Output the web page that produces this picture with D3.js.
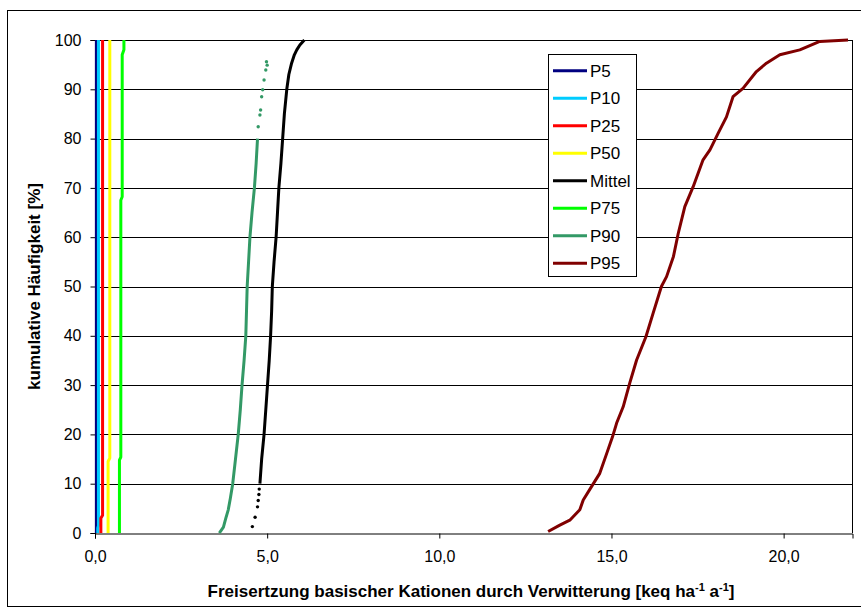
<!DOCTYPE html>
<html>
<head>
<meta charset="utf-8">
<script src="https://cdn.jsdelivr.net/npm/d3@7"></script>
<style>
  html, body { margin: 0; padding: 0; background: #fff; }
  svg { display: block; font-family: "Liberation Sans", Arial, sans-serif; }
</style>
</head>
<body>
<svg id="chart" width="861" height="613"></svg>
<script>
// Cumulative frequency (%) of base cation weathering rates per percentile.
// Each point: [weathering rate in keq/ha/a, cumulative frequency in %]
const seriesNames = ["P5", "P10", "P25", "P50", "Mittel", "P75", "P90", "P95"];
const seriesColors = ["#000080", "#00CCFF", "#FF0000", "#FFFF00", "#000000", "#00FF00", "#339966", "#800000"];

const p5 = [[0.04, 0], [0.04, 100]];
const p10 = [[0.08, 0], [0.08, 1], [0.1, 1.5], [0.1, 100]];
const p25 = [[0.17, 0], [0.17, 3], [0.22, 3.6], [0.22, 100]];
const p50 = [[0.38, 0], [0.38, 14.5], [0.43, 15.2], [0.43, 100]];
const mittel = [[4.79, 10], [4.84, 15], [4.91, 20], [4.96, 25], [5.01, 30], [5.06, 35], [5.1, 40],
  [5.13, 45], [5.15, 50], [5.2, 55], [5.26, 60], [5.3, 65], [5.34, 70], [5.4, 75], [5.45, 80],
  [5.5, 85], [5.57, 90], [5.63, 93], [5.71, 95.3], [5.79, 97], [5.86, 98], [5.95, 99], [6.08, 100]];
const mittelSparse = [[4.57, 1.3], [4.65, 3.2], [4.72, 5.3], [4.74, 6.6], [4.76, 7.8], [4.77, 8.9]];
const p75 = [[0.71, 0], [0.71, 14.8], [0.75, 15.4], [0.75, 67.5], [0.79, 68.2], [0.79, 97], [0.84, 98], [0.84, 100]];
const p90 = [[3.61, 0], [3.66, 0.5], [3.73, 1.2], [3.8, 3], [3.87, 4.7], [3.93, 7], [4.0, 10], [4.08, 15],
  [4.16, 20], [4.22, 25], [4.27, 30], [4.33, 35], [4.38, 40], [4.4, 45], [4.42, 50], [4.46, 55],
  [4.5, 60], [4.56, 65], [4.63, 70], [4.68, 75], [4.72, 80]];
const p90Sparse = [[4.74, 82.4], [4.79, 84.8], [4.81, 85.8], [4.84, 88.5], [4.87, 89.9], [4.91, 91.9],
  [4.96, 93.9], [5.0, 94.9], [4.98, 95.6]];
const p95 = [[13.16, 0.3], [13.5, 1.6], [13.79, 2.6], [14.08, 4.7], [14.18, 6.7], [14.42, 9.4], [14.66, 12.1],
  [14.86, 16.1], [15.03, 19.5], [15.15, 22.3], [15.34, 25.6], [15.53, 30.4], [15.73, 35.1], [16.0, 39.8],
  [16.21, 44.6], [16.45, 50], [16.6, 52], [16.8, 56.1], [16.94, 60.8], [17.13, 66.2], [17.37, 70.2],
  [17.66, 75.7], [17.86, 77.7], [18.1, 81.1], [18.34, 84.4], [18.53, 88.5], [18.82, 90.2], [19.21, 93.6],
  [19.5, 95.3], [19.89, 97], [20.47, 98], [21.05, 99.7], [21.87, 100]];

const xTicks = [0, 5, 10, 15, 20];
const yTicks = [0, 10, 20, 30, 40, 50, 60, 70, 80, 90, 100];

const lineSeries = [p5, p10, p25, p50, mittel, p75, p90, p95];
const sparseSeries = [null, null, null, null, mittelSparse, null, p90Sparse, null];

const svg = d3.select("#chart");
const plot = { left: 95, right: 852.5, top: 40, bottom: 533 };

// outer chart frame
svg.append("rect").attr("x", 7.5).attr("y", 10.5).attr("width", 880).attr("height", 596)
  .attr("fill", "#fff").attr("stroke", "#000").attr("stroke-width", 1);

const x = d3.scaleLinear().domain([0, 22]).range([plot.left, plot.right]);
const y = d3.scaleLinear().domain([0, 100]).range([plot.bottom, plot.top]);

// horizontal gridlines
svg.append("g").selectAll("line").data(yTicks.filter(d => d > 0)).join("line")
  .attr("x1", plot.left).attr("x2", plot.right)
  .attr("y1", d => Math.round(y(d)) + 0.5).attr("y2", d => Math.round(y(d)) + 0.5)
  .attr("stroke", "#000").attr("stroke-width", 1);

// plot area right border
svg.append("line").attr("x1", plot.right).attr("x2", plot.right)
  .attr("y1", plot.top).attr("y2", plot.bottom).attr("stroke", "#000").attr("stroke-width", 1);

// axes
const yAxis = d3.axisLeft(y).tickValues(yTicks).tickSize(5).tickPadding(9).tickFormat(d3.format("d"));
const gy = svg.append("g").attr("transform", `translate(${plot.left + 0.5},0)`).call(yAxis);
const xAxis = d3.axisBottom(x).tickValues(xTicks).tickSize(5).tickPadding(12)
  .tickFormat(d => d3.format(".1f")(d).replace(".", ","));
const gx = svg.append("g").attr("transform", `translate(0,${Math.round(plot.bottom) + 0.5})`).call(xAxis);
[gx, gy].forEach(g => {
  g.select(".domain").attr("stroke", "#000");
  g.selectAll(".tick line").attr("stroke", "#000");
  g.selectAll("text").attr("font-family", "Liberation Sans, Arial, sans-serif")
    .attr("font-size", 16).attr("fill", "#000");
});

// data curves
const line = d3.line().x(d => x(d[0])).y(d => y(d[1]));
const curves = svg.append("g");
lineSeries.forEach((s, i) => {
  curves.append("path").datum(s).attr("d", line)
    .attr("fill", "none").attr("stroke", seriesColors[i]).attr("stroke-width", 3)
    .attr("stroke-linejoin", "round");
  if (sparseSeries[i]) {
    curves.append("g").selectAll("circle").data(sparseSeries[i]).join("circle")
      .attr("cx", d => x(d[0])).attr("cy", d => y(d[1])).attr("r", 1.7)
      .attr("fill", seriesColors[i]);
  }
});

// legend
const leg = svg.append("g");
leg.append("rect").attr("x", 548.5).attr("y", 54.5).attr("width", 88).attr("height", 222)
  .attr("fill", "#fff").attr("stroke", "#000").attr("stroke-width", 1);
seriesNames.forEach((name, i) => {
  const cy = 70.7 + i * 27.5;
  leg.append("line").attr("x1", 553).attr("x2", 587).attr("y1", cy).attr("y2", cy)
    .attr("stroke", seriesColors[i]).attr("stroke-width", 3);
  leg.append("text").attr("x", 590).attr("y", cy + 6).attr("font-size", 17).attr("fill", "#000").text(name);
});

// axis titles
svg.append("text").attr("transform", `translate(40,${(plot.top + plot.bottom) / 2}) rotate(-90)`)
  .attr("text-anchor", "middle").attr("font-size", 17).attr("font-weight", "bold")
  .text("kumulative Häufigkeit [%]");

const xt = svg.append("text").attr("x", 471).attr("y", 597)
  .attr("text-anchor", "middle").attr("font-size", 17).attr("font-weight", "bold");
xt.append("tspan").text("Freisertzung basischer Kationen durch Verwitterung [keq ha");
xt.append("tspan").attr("dy", -6).attr("font-size", 11).text("-1");
xt.append("tspan").attr("dy", 6).text(" a");
xt.append("tspan").attr("dy", -6).attr("font-size", 11).text("-1");
xt.append("tspan").attr("dy", 6).text("]");
</script>
</body>
</html>
